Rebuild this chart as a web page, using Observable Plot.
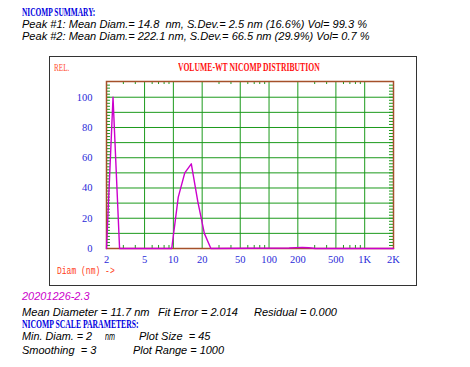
<!DOCTYPE html>
<html><head><meta charset="utf-8">
<script src="https://cdn.jsdelivr.net/npm/d3@7"></script>
<script src="https://cdn.jsdelivr.net/npm/@observablehq/plot@0.6"></script>
<style>
html,body{margin:0;padding:0;background:#fff;}
#wrap{position:relative;width:470px;height:367px;overflow:hidden;background:#fff;}
#wrap svg{position:absolute;left:0;top:0;}
.t{position:absolute;white-space:pre;line-height:1;transform-origin:0 50%;}
.it{font-family:"Liberation Sans",Arial,sans-serif;font-style:italic;font-size:10.5px;color:#000;}
.bl{font-family:"Liberation Serif",serif;font-weight:bold;font-size:11.5px;color:#0000e0;}
#box{position:absolute;left:49px;top:56px;width:366px;height:228px;border:1px solid #333;}
</style></head>
<body><div id="wrap"><div id="box"></div></div>
<script>
// Data (NICOMP volume-weighted distribution)
const diameters = [2, 2.34, 2.74, 9.61, 11.25, 13.16, 15.40, 18.01, 21.08, 24.66, 162.2, 189.8, 222.1, 259.8, 304, 2000];
const relValues = [0, 100, 0, 0, 34, 50, 56, 31, 10, 0, 0.3, 0.6, 0.7, 0.5, 0, 0];
const xTicks = [2, 5, 10, 20, 50, 100, 200, 500, 1000, 2000];
const xTickLabels = ["2", "5", "10", "20", "50", "100", "200", "500", "1K", "2K"];
const xGrid = [5, 10, 20, 50, 100, 200, 500, 1000];
const xMinor = [3, 4, 6, 7, 8, 9, 30, 40, 60, 70, 80, 90, 300, 400, 600, 700, 800, 900];
const yTicks = [0, 20, 40, 60, 80, 100];
const yGrid = [10, 20, 30, 40, 50, 60, 70, 80, 90, 100];
const yMinor = d3.range(2, 110, 2);

const data = diameters.map((d, i) => ({d, v: relValues[i]}));
const xLabelData = xTicks.map((t, i) => ({t, label: xTickLabels[i]}));
const green = "#1c9a1c", brown = "#a5502a", tickBlue = "#2a2ad8";
const yTop = 110.4;

const chart = Plot.plot({
  width: 470, height: 300,
  marginLeft: 106, marginRight: 77, marginTop: 81, marginBottom: 52,
  style: {background: "transparent", fontFamily: "Liberation Serif, serif", fontSize: "10.5px", color: tickBlue},
  x: {type: "log", domain: [2, 2000], axis: null},
  y: {domain: [0, yTop], ticks: yTicks, tickSize: 0, tickPadding: 14, label: null},
  marks: [
    Plot.ruleX(xGrid, {stroke: green, strokeWidth: 1}),
    Plot.ruleY(yGrid, {stroke: green, strokeWidth: 1}),
    Plot.ruleX(xMinor, {y1: 0, y2: 2, stroke: green}),
    Plot.ruleX(xMinor, {y1: yTop - 2, y2: yTop, stroke: green}),
    Plot.ruleY(yMinor, {x1: 2, x2: 2.2, stroke: green}),
    Plot.ruleY(yMinor, {x1: 1816, x2: 2000, stroke: green}),
    Plot.frame({stroke: brown, strokeWidth: 1.5}),
    Plot.line(data, {x: "d", y: "v", stroke: "#cc00cc", strokeWidth: 1.4}),
    Plot.text(xLabelData, {x: "t", y: 0, text: "label", dy: 11.5, fill: tickBlue})
  ]
});
const wrap = document.getElementById("wrap");
wrap.insertBefore(chart, wrap.firstChild);

function place(text, left, yc, width, cls, extra) {
  const s = document.createElement("span");
  s.className = "t " + cls;
  s.textContent = text;
  if (extra) Object.assign(s.style, extra);
  wrap.appendChild(s);
  const w = s.getBoundingClientRect().width, h = s.getBoundingClientRect().height;
  s.style.left = left + "px";
  s.style.top = (yc - h / 2) + "px";
  s.style.transform = `scaleX(${width / w})`;
}
const redSerif = {fontFamily: "Liberation Serif, serif", fontWeight: "bold", fontSize: "11.5px", color: "#ff1010"};
place("NICOMP SUMMARY:", 21.7, 12.7, 73.3, "bl");
place("Peak #1: Mean Diam.= 14.8  nm, S.Dev.= 2.5 nm (16.6%) Vol= 99.3 %", 21.7, 24.7, 345, "it");
place("Peak #2: Mean Diam.= 222.1 nm, S.Dev.= 66.5 nm (29.9%) Vol= 0.7 %", 21.7, 36.2, 347.6, "it");
place("REL.", 54, 68.7, 15.3, "", {fontFamily: "Liberation Serif, serif", fontSize: "10.5px", color: "#ff5030"});
place("VOLUME-WT NICOMP DISTRIBUTION", 178.3, 67.7, 141.7, "", redSerif);
place("Diam (nm) ->", 57.3, 271, 57.7, "", {fontFamily: "Liberation Mono, monospace", fontSize: "10.5px", color: "#ff4020"});
place("20201226-2.3", 21.7, 296.7, 67.6, "it", {color: "#cc00cc"});
place("Mean Diameter = 11.7 nm", 21.7, 312, 127.6, "it");
place("Fit Error = 2.014", 158.3, 312, 80, "it");
place("Residual = 0.000", 254.3, 312, 83, "it");
place("NICOMP SCALE PARAMETERS:", 21.7, 324.3, 116.6, "bl");
place("Min. Diam. = 2", 21.7, 336.7, 70, "it");
place("nm", 105, 336.7, 10, "it");
place("Plot Size  = 45", 139.3, 336.7, 71.4, "it");
place("Smoothing  = 3", 21.7, 350, 74.3, "it");
place("Plot Range = 1000", 133.3, 350, 91, "it");
</script>
</body></html>
